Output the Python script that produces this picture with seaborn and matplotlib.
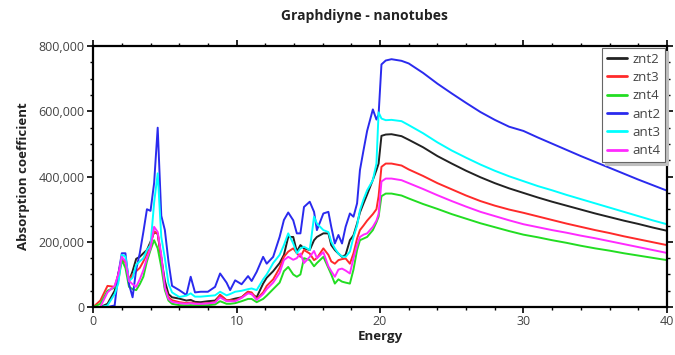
import numpy as np
import pandas as pd
import matplotlib
matplotlib.use("Agg")
import matplotlib.pyplot as plt
import seaborn as sns
from matplotlib.ticker import MultipleLocator, FuncFormatter

# ---------------- data (absorption coefficient in thousands) ----------------
energy = [0, 0.5, 1.0, 1.5, 1.75, 2.0, 2.25, 2.5, 2.75, 3.0, 3.25, 3.5, 3.75, 4.0, 4.25, 4.5,
          4.75, 5.0, 5.25, 5.5, 6.0, 6.5, 6.8, 7.1, 7.5, 8.0, 8.5, 8.85, 9.3, 9.55, 9.9, 10.35,
          10.8, 11.05, 11.4, 11.85, 12.1, 12.55, 13.0, 13.3, 13.6, 13.95, 14.2, 14.45, 14.7,
          15.1, 15.4, 15.6, 16.05, 16.4, 16.6, 16.85, 17.1, 17.35, 17.6, 17.9, 18.15, 18.4,
          18.6, 18.85, 19.1, 19.5, 19.75, 19.9, 20.1, 20.4,
          20.8, 21.5, 22, 23, 24, 25, 26, 27, 28, 29, 30, 31, 32, 33, 34, 35, 36, 37, 38, 39, 40]

znt2 = [0, 0, 10, 50, 100, 150, 140, 80, 110, 148, 154, 165, 175, 200, 230, 225,
        150, 80, 40, 30, 26, 20, 22, 16, 15, 18, 20, 36, 20, 22, 26, 30,
        47, 40, 30, 72, 90, 110, 135, 160, 215, 215, 170, 190, 180,
        175, 205, 215, 226, 226, 190, 175, 164, 154, 160, 205, 220, 256,
        290, 318, 345, 390, 420, 440, 525, 529,
        530, 524, 513, 490, 463, 440, 418, 398, 380, 364, 350, 336, 323, 311, 299, 287, 276, 265, 255, 244, 234]

znt3 = [0, 20, 65, 62, 100, 144, 138, 82, 100, 110, 120, 140, 164, 195, 232, 225,
        150, 60, 30, 21, 15, 12, 14, 11, 10, 12, 15, 38, 21, 21, 20, 30,
        47, 45, 25, 45, 65, 85, 120, 154, 170, 180, 165, 154, 175,
        164, 144, 150, 180, 160, 140, 133, 144, 147, 149, 133, 165, 210,
        236, 250, 265, 285, 300, 340, 430, 440,
        440, 434, 422, 402, 380, 361, 342, 325, 311, 299, 289, 278, 267, 256, 246, 236, 227, 217, 208, 199, 190]

znt4 = [0, 10, 50, 60, 80, 144, 120, 62, 55, 52, 70, 93, 140, 175, 205, 180,
        123, 52, 20, 10, 6, 5, 6, 5, 5, 6, 8, 18, 10, 10, 12, 18,
        25, 25, 15, 25, 35, 55, 75, 110, 123, 100, 93, 100, 150,
        144, 125, 135, 154, 120, 100, 72, 85, 78, 75, 72, 115, 175,
        205, 210, 215, 236, 260, 277, 340, 348,
        348, 342, 333, 316, 301, 285, 271, 257, 245, 233, 222, 214, 205, 197, 188, 180, 173, 165, 158, 151, 144]

ant2 = [0, 0, 0, 5, 100, 165, 165, 70, 30, 115, 165, 230, 300, 295, 380, 550,
        280, 236, 140, 65, 52, 37, 93, 45, 47, 47, 62, 103, 75, 52, 82, 70,
        95, 80, 108, 154, 133, 154, 215, 267, 290, 266, 226, 226, 307,
        323, 292, 236, 287, 292, 246, 195, 221, 195, 246, 287, 277, 318,
        420, 481, 540, 606, 575, 590, 744, 756,
        760, 755, 747, 718, 685, 655, 626, 598, 574, 553, 540, 520, 501, 482, 463, 445, 427, 409, 391, 374, 357]

ant3 = [0, 0, 5, 40, 72, 160, 155, 80, 90, 130, 140, 150, 175, 190, 320, 410,
        215, 150, 72, 45, 31, 35, 42, 32, 32, 34, 36, 47, 36, 40, 47, 50,
        55, 57, 52, 85, 100, 135, 160, 190, 226, 195, 165, 180, 185,
        175, 277, 256, 236, 230, 200, 180, 164, 155, 154, 170, 215, 250,
        297, 330, 358, 389, 440, 597, 578, 573,
        574, 570, 558, 533, 505, 480, 458, 437, 418, 401, 386, 371, 358, 344, 331, 318, 305, 292, 279, 266, 254]

ant4 = [0, 0, 45, 65, 100, 154, 140, 80, 70, 62, 85, 113, 150, 180, 246, 230,
        160, 60, 25, 16, 12, 10, 12, 10, 10, 11, 14, 30, 18, 18, 18, 28,
        42, 40, 22, 40, 55, 75, 105, 144, 154, 145, 150, 164, 135,
        154, 172, 150, 168, 125, 110, 93, 115, 118, 112, 103, 150, 190,
        215, 222, 226, 246, 265, 285, 385, 394,
        394, 389, 380, 362, 343, 325, 308, 292, 279, 266, 254, 245, 236, 228, 219, 211, 202, 193, 184, 175, 166]

series_names = ["znt2", "znt3", "znt4", "ant2", "ant3", "ant4"]
series_vals = [znt2, znt3, znt4, ant2, ant3, ant4]
colors = ["#222222", "#ff2a2a", "#22dd22", "#2a2aee", "#00ffff", "#ff2aff"]

frames = []
for name, vals in zip(series_names, series_vals):
    frames.append(pd.DataFrame({"Energy": energy,
                                "Absorption": np.array(vals, dtype=float) * 1000.0,
                                "series": name}))
df = pd.concat(frames, ignore_index=True)

# ---------------- plot ----------------
sns.set_theme(style="white")
plt.rcParams["font.family"] = ["Open Sans", "DejaVu Sans"]

fig = plt.figure(figsize=(6.75, 3.55), dpi=100)
ax = fig.add_axes([0.138, 0.135, 0.850, 0.735])

sns.lineplot(data=df, x="Energy", y="Absorption", hue="series", hue_order=series_names,
             palette=dict(zip(series_names, colors)), sort=False, linewidth=1.4,
             estimator=None, ax=ax)

ax.set_xlim(0, 40)
ax.set_ylim(0, 800000)
ax.xaxis.set_major_locator(MultipleLocator(10))
ax.xaxis.set_minor_locator(MultipleLocator(2))
ax.yaxis.set_major_locator(MultipleLocator(200000))
ax.yaxis.set_minor_locator(MultipleLocator(50000))
ax.yaxis.set_major_formatter(FuncFormatter(lambda v, p: f"{int(v):,}"))

ax.tick_params(which="both", direction="out", top=True, right=True, bottom=True, left=True,
               colors="black", labelcolor="#444444", labelsize=9)
ax.tick_params(which="major", length=4, width=1.2, pad=2)
ax.tick_params(which="minor", length=2.5, width=1.0)
for s in ax.spines.values():
    s.set_color("black")
    s.set_linewidth(1.6)

ax.set_xlabel("Energy", fontsize=9.5, fontweight="bold", labelpad=1, color="#222222")
ax.set_ylabel("Absorption coefficient", fontsize=9.5, fontweight="bold", labelpad=6,
              color="#222222")
fig.suptitle("Graphdiyne - nanotubes", x=0.54, y=0.975, fontsize=10, fontweight="bold",
             color="#222222")

leg = ax.legend(loc="upper right", fontsize=9.5, frameon=True, fancybox=False,
                handlelength=1.5, handletextpad=0.4, borderpad=0.35, labelspacing=0.4,
                borderaxespad=0.15, shadow={"color": "0.75", "alpha": 1.0})
leg.get_frame().set_edgecolor("#666666")
leg.get_frame().set_linewidth(0.8)
for t in leg.get_texts():
    t.set_color("#444444")
for line in leg.get_lines():
    line.set_linewidth(2.0)

fig.savefig("out.png", dpi=100)
